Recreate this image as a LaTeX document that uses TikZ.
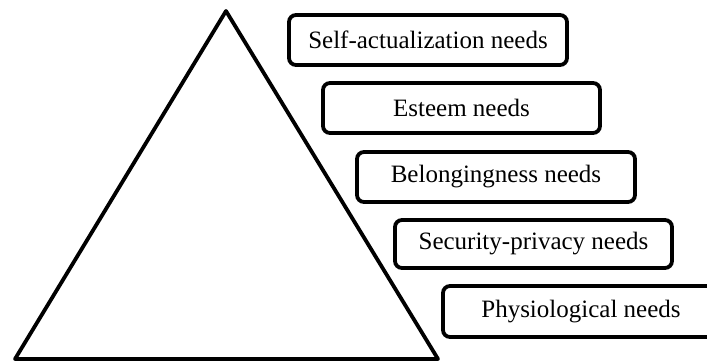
\documentclass[tikz,border=0pt]{standalone}
\usepackage{fontspec}
\setmainfont{Liberation Serif}
\begin{document}
\begin{tikzpicture}[x=1pt,y=-1pt,
  needbox/.style={draw=black,line width=3.8pt,rounded corners=7pt},
  needtext/.style={font=\fontsize{25}{30}\selectfont,text=black,inner sep=0pt},
  tri/.style={draw=black,line width=3.8pt,line join=round}]
\useasboundingbox (0,0) rectangle (707,364);
\clip (0,0) rectangle (707,364);
\draw[tri] (226,11) coordinate (apex) -- (438,359) coordinate (br) -- (15,359) coordinate (bl) -- cycle;
\draw[needbox] (289,15) rectangle (567,65);
\node[needtext] (n1) at (428,40) {Self-actualization needs};
\draw[needbox] (323,83) rectangle (600,133);
\node[needtext] (n2) at (461.5,108) {Esteem needs};
\draw[needbox] (357,152) rectangle (635,202);
\node[needtext] (n3) at (496,177) {Belongingness needs};
\draw[needbox] (395,220) rectangle (672,268);
\node[needtext] (n4) at (533.5,244) {Security-privacy needs};
\draw[needbox] (443,286) rectangle (720,337);
\node[needtext] (n5) at (581,311.5) {Physiological needs};
\end{tikzpicture}
\end{document}
